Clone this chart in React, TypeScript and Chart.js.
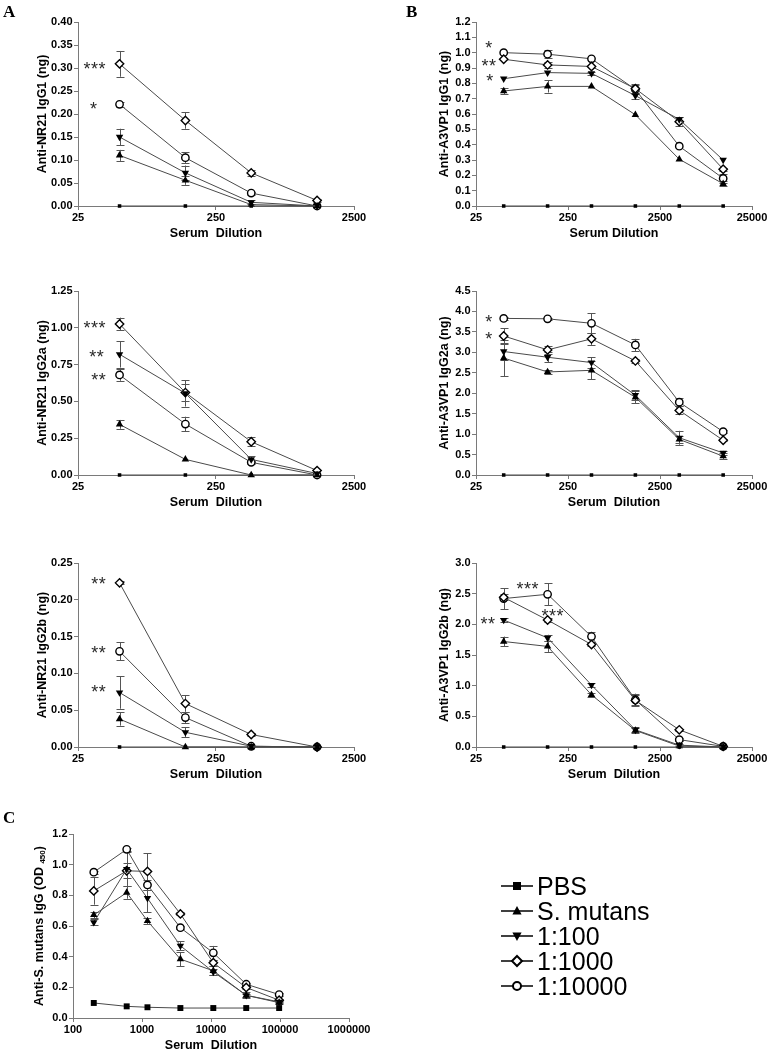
import React, { useEffect, useRef } from "react";
import { Chart, registerables } from "chart.js";

Chart.register(...registerables);

// ---------- data ----------
const SERIES_NAMES = ["PBS", "S. mutans", "1:100", "1:1000", "1:10000"];

const DIL_A = [50, 150, 450, 1350];
const DIL_B = [50, 150, 450, 1350, 4050, 12150];
const DIL_C = [200, 600, 1200, 3600, 10800, 32400, 97200];

const TICKS_A = [25, 250, 2500];
const TICKS_B = [25, 250, 2500, 25000];
const TICKS_C = [100, 1000, 10000, 100000, 1000000];

// A1: Anti-NR21 IgG1
const A1_PBS = [0, 0, 0, 0];
const A1_SM = [0.11, 0.056, 0.003, 0.0];
const A1_D100 = [0.15, 0.072, 0.008, 0.0];
const A1_D1000 = [0.309, 0.186, 0.072, 0.012];
const A1_D10000 = [0.221, 0.105, 0.028, 0.0];
const A1_ERR_SM = [0.012, 0.01, 0, 0];
const A1_ERR_D100 = [0.018, 0.016, 0.004, 0];
const A1_ERR_D1000 = [0.028, 0.018, 0.007, 0.003];
const A1_ERR_D10000 = [0.005, 0.012, 0.003, 0];

// B1: Anti-A3VP1 IgG1
const B1_PBS = [0, 0, 0, 0, 0, 0];
const B1_SM = [0.75, 0.78, 0.78, 0.595, 0.305, 0.145];
const B1_D100 = [0.83, 0.87, 0.865, 0.72, 0.565, 0.3];
const B1_D1000 = [0.957, 0.92, 0.91, 0.765, 0.55, 0.24];
const B1_D10000 = [1.0, 0.99, 0.96, 0.76, 0.39, 0.18];
const B1_ERR_SM = [0.02, 0.04, 0, 0, 0, 0.015];
const B1_ERR_D100 = [0, 0, 0.01, 0.02, 0.015, 0];
const B1_ERR_D1000 = [0, 0.02, 0, 0.03, 0.03, 0.01];
const B1_ERR_D10000 = [0, 0.025, 0, 0.03, 0, 0.03];

// A2: Anti-NR21 IgG2a
const A2_PBS = [0, 0, 0, 0];
const A2_SM = [0.344, 0.106, 0.0, 0.0];
const A2_D100 = [0.82, 0.555, 0.106, 0.01];
const A2_D1000 = [1.026, 0.56, 0.226, 0.03];
const A2_D10000 = [0.68, 0.346, 0.086, 0.0];
const A2_ERR_SM = [0.03, 0, 0, 0];
const A2_ERR_D100 = [0.09, 0.09, 0.02, 0];
const A2_ERR_D1000 = [0.043, 0.06, 0.03, 0];
const A2_ERR_D10000 = [0.04, 0.05, 0.01, 0];

// B2: Anti-A3VP1 IgG2a
const B2_PBS = [0, 0, 0, 0, 0, 0];
const B2_SM = [2.86, 2.52, 2.56, 1.9, 0.87, 0.46];
const B2_D100 = [3.02, 2.88, 2.75, 1.95, 0.91, 0.54];
const B2_D1000 = [3.4, 3.06, 3.33, 2.79, 1.58, 0.85];
const B2_D10000 = [3.83, 3.82, 3.71, 3.18, 1.78, 1.06];
const B2_ERR_SM = [0.45, 0.05, 0.22, 0.15, 0.08, 0.08];
const B2_ERR_D100 = [0.2, 0.12, 0.13, 0.12, 0.17, 0.05];
const B2_ERR_D1000 = [0.19, 0.1, 0.15, 0.05, 0.1, 0.03];
const B2_ERR_D10000 = [0.03, 0.03, 0.24, 0.15, 0.1, 0.03];

// A3: Anti-NR21 IgG2b
const A3_PBS = [0, 0, 0, 0];
const A3_SM = [0.038, 0.0, 0.0, 0.0];
const A3_D100 = [0.074, 0.02, 0.001, 0.0];
const A3_D1000 = [0.223, 0.059, 0.017, 0.0];
const A3_D10000 = [0.13, 0.04, 0.001, 0.0];
const A3_ERR_SM = [0.009, 0, 0, 0];
const A3_ERR_D100 = [0.022, 0.007, 0, 0];
const A3_ERR_D1000 = [0.002, 0.011, 0.002, 0];
const A3_ERR_D10000 = [0.012, 0.008, 0, 0];

// B3: Anti-A3VP1 IgG2b
const B3_PBS = [0, 0, 0, 0, 0, 0];
const B3_SM = [1.72, 1.64, 0.85, 0.27, 0.015, 0.0];
const B3_D100 = [2.07, 1.78, 1.01, 0.28, 0.03, 0.0];
const B3_D1000 = [2.44, 2.07, 1.67, 0.76, 0.28, 0.01];
const B3_D10000 = [2.42, 2.49, 1.8, 0.77, 0.12, 0.01];
const B3_ERR_SM = [0.08, 0.09, 0.03, 0.04, 0, 0];
const B3_ERR_D100 = [0.03, 0.05, 0.03, 0.04, 0.02, 0];
const B3_ERR_D1000 = [0.05, 0.03, 0.03, 0.08, 0.02, 0];
const B3_ERR_D10000 = [0.17, 0.18, 0.08, 0.1, 0.03, 0];

// C: Anti-S. mutans IgG (OD450)
const C_PBS = [0.098, 0.076, 0.07, 0.065, 0.065, 0.065, 0.065];
const C_SM = [0.672, 0.818, 0.633, 0.384, 0.308, 0.148, 0.1];
const C_D100 = [0.624, 0.971, 0.781, 0.471, 0.301, 0.148, 0.105];
const C_D1000 = [0.829, 0.96, 0.956, 0.679, 0.36, 0.199, 0.116];
const C_D10000 = [0.951, 1.1, 0.868, 0.589, 0.425, 0.22, 0.153];
const C_ERR_SM = [0.02, 0.04, 0.02, 0.045, 0.03, 0.02, 0.01];
const C_ERR_D100 = [0.02, 0.11, 0.09, 0.03, 0.02, 0.01, 0.01];
const C_ERR_D1000 = [0.09, 0.05, 0.12, 0.01, 0.02, 0.01, 0.01];
const C_ERR_D10000 = [0.01, 0.01, 0.03, 0.01, 0.045, 0.01, 0.01];

const NO_ERR_4 = [0, 0, 0, 0];
const NO_ERR_6 = [0, 0, 0, 0, 0, 0];
const NO_ERR_7 = [0, 0, 0, 0, 0, 0, 0];

// ---------- styles / layout ----------
const FONT = '"Liberation Sans", Arial, Helvetica, sans-serif';
const AXIS_COLOR = "#7a7a7a";
const LINE_COLOR = "#4a4a4a";
const ERR_COLOR = "#555555";
const Y_W = 70;
const PT = 12;
const X_H = 42;
const TITLE_SIZE = 12.5;

const MARKERS = [
  { pointStyle: "rect", rotation: 0, fill: "#000", r: 2.5, bw: 0 },
  { pointStyle: "triangle", rotation: 0, fill: "#000", r: 4.3, bw: 0 },
  { pointStyle: "triangle", rotation: 180, fill: "#000", r: 4.3, bw: 0 },
  { pointStyle: "rectRot", rotation: 0, fill: "#fff", r: 4.2, bw: 1.4 },
  { pointStyle: "circle", rotation: 0, fill: "#fff", r: 3.7, bw: 1.4 },
];

type Note = { s: number; i: number; text: string; dx: number; dy: number };
type PanelCfg = {
  id: string;
  area: number[]; // left, top, right, bottom (page px)
  padRight: number;
  xs: number[];
  xMin: number;
  xMax: number;
  xTicks: number[];
  yMax: number;
  yStep: number;
  yDec: number;
  yTitle: string;
  yTitleDist: number;
  xTitle: string;
  values: number[][];
  errors: number[][];
  notes: Note[];
  pbsRadius: number;
  customYTitle?: boolean;
  legend?: { x: number; y: number; gap: number };
};

const PANELS: PanelCfg[] = [
  {
    id: "A1",
    area: [78, 22, 354, 206],
    padRight: 25,
    xs: DIL_A, xMin: 25, xMax: 2500, xTicks: TICKS_A,
    yMax: 0.4, yStep: 0.05, yDec: 2,
    yTitle: "Anti-NR21 IgG1 (ng)", yTitleDist: 35.5,
    xTitle: "Serum  Dilution",
    values: [A1_PBS, A1_SM, A1_D100, A1_D1000, A1_D10000],
    errors: [NO_ERR_4, A1_ERR_SM, A1_ERR_D100, A1_ERR_D1000, A1_ERR_D10000],
    notes: [
      { s: 3, i: 0, text: "***", dx: -25, dy: 2 },
      { s: 4, i: 0, text: "*", dx: -26, dy: 1 },
    ],
    pbsRadius: 2.5,
  },
  {
    id: "B1",
    area: [476, 22, 752, 206],
    padRight: 25,
    xs: DIL_B, xMin: 25, xMax: 25000, xTicks: TICKS_B,
    yMax: 1.2, yStep: 0.1, yDec: 1,
    yTitle: "Anti-A3VP1 IgG1 (ng)", yTitleDist: 31,
    xTitle: "Serum Dilution",
    values: [B1_PBS, B1_SM, B1_D100, B1_D1000, B1_D10000],
    errors: [NO_ERR_6, B1_ERR_SM, B1_ERR_D100, B1_ERR_D1000, B1_ERR_D10000],
    notes: [
      { s: 4, i: 0, text: "*", dx: -15, dy: -8 },
      { s: 3, i: 0, text: "**", dx: -15, dy: 3 },
      { s: 2, i: 0, text: "*", dx: -14, dy: -1 },
    ],
    pbsRadius: 2.5,
  },
  {
    id: "A2",
    area: [78, 291, 354, 475],
    padRight: 25,
    xs: DIL_A, xMin: 25, xMax: 2500, xTicks: TICKS_A,
    yMax: 1.25, yStep: 0.25, yDec: 2,
    yTitle: "Anti-NR21 IgG2a (ng)", yTitleDist: 35.5,
    xTitle: "Serum  Dilution",
    values: [A2_PBS, A2_SM, A2_D100, A2_D1000, A2_D10000],
    errors: [NO_ERR_4, A2_ERR_SM, A2_ERR_D100, A2_ERR_D1000, A2_ERR_D10000],
    notes: [
      { s: 3, i: 0, text: "***", dx: -25, dy: 1 },
      { s: 2, i: 0, text: "**", dx: -23, dy: -1 },
      { s: 4, i: 0, text: "**", dx: -21, dy: 2 },
    ],
    pbsRadius: 2.5,
  },
  {
    id: "B2",
    area: [476, 291, 752, 475],
    padRight: 25,
    xs: DIL_B, xMin: 25, xMax: 25000, xTicks: TICKS_B,
    yMax: 4.5, yStep: 0.5, yDec: 1,
    yTitle: "Anti-A3VP1 IgG2a (ng)", yTitleDist: 31,
    xTitle: "Serum  Dilution",
    values: [B2_PBS, B2_SM, B2_D100, B2_D1000, B2_D10000],
    errors: [NO_ERR_6, B2_ERR_SM, B2_ERR_D100, B2_ERR_D1000, B2_ERR_D10000],
    notes: [
      { s: 4, i: 0, text: "*", dx: -15, dy: 0 },
      { s: 3, i: 0, text: "*", dx: -15, dy: 0 },
    ],
    pbsRadius: 2.5,
  },
  {
    id: "A3",
    area: [78, 563, 354, 747],
    padRight: 25,
    xs: DIL_A, xMin: 25, xMax: 2500, xTicks: TICKS_A,
    yMax: 0.25, yStep: 0.05, yDec: 2,
    yTitle: "Anti-NR21 IgG2b (ng)", yTitleDist: 35.5,
    xTitle: "Serum  Dilution",
    values: [A3_PBS, A3_SM, A3_D100, A3_D1000, A3_D10000],
    errors: [NO_ERR_4, A3_ERR_SM, A3_ERR_D100, A3_ERR_D1000, A3_ERR_D10000],
    notes: [
      { s: 3, i: 0, text: "**", dx: -21, dy: -2 },
      { s: 4, i: 0, text: "**", dx: -21, dy: -2 },
      { s: 2, i: 0, text: "**", dx: -21, dy: -4 },
    ],
    pbsRadius: 2.5,
  },
  {
    id: "B3",
    area: [476, 563, 752, 747],
    padRight: 25,
    xs: DIL_B, xMin: 25, xMax: 25000, xTicks: TICKS_B,
    yMax: 3.0, yStep: 0.5, yDec: 1,
    yTitle: "Anti-A3VP1 IgG2b (ng)", yTitleDist: 31,
    xTitle: "Serum  Dilution",
    values: [B3_PBS, B3_SM, B3_D100, B3_D1000, B3_D10000],
    errors: [NO_ERR_6, B3_ERR_SM, B3_ERR_D100, B3_ERR_D1000, B3_ERR_D10000],
    notes: [
      { s: 4, i: 1, text: "***", dx: -20, dy: -9 },
      { s: 3, i: 1, text: "***", dx: 5, dy: -8 },
      { s: 2, i: 0, text: "**", dx: -16, dy: 0 },
    ],
    pbsRadius: 2.5,
  },
  {
    id: "C",
    area: [73, 834, 349, 1018],
    padRight: 300,
    xs: DIL_C, xMin: 100, xMax: 1000000, xTicks: TICKS_C,
    yMax: 1.2, yStep: 0.2, yDec: 1,
    yTitle: "Anti-S. mutans IgG (OD",
    yTitleDist: 33,
    xTitle: "Serum  Dilution",
    values: [C_PBS, C_SM, C_D100, C_D1000, C_D10000],
    errors: [NO_ERR_7, C_ERR_SM, C_ERR_D100, C_ERR_D1000, C_ERR_D10000],
    notes: [],
    pbsRadius: 4.2,
    customYTitle: true,
    legend: { x: 501, y: 886, gap: 25 },
  },
];

function drawLegendMarker(ctx: CanvasRenderingContext2D, kind: number, x: number, y: number) {
  ctx.save();
  ctx.beginPath();
  ctx.fillStyle = "#000";
  ctx.strokeStyle = "#000";
  ctx.lineWidth = 2;
  if (kind === 0) {
    ctx.rect(x - 4, y - 4, 8, 8);
    ctx.fill();
  } else if (kind === 1) {
    ctx.moveTo(x, y - 5);
    ctx.lineTo(x + 4.6, y + 3.5);
    ctx.lineTo(x - 4.6, y + 3.5);
    ctx.closePath();
    ctx.fill();
  } else if (kind === 2) {
    ctx.moveTo(x, y + 5);
    ctx.lineTo(x + 4.6, y - 3.5);
    ctx.lineTo(x - 4.6, y - 3.5);
    ctx.closePath();
    ctx.fill();
  } else if (kind === 3) {
    ctx.moveTo(x, y - 5);
    ctx.lineTo(x + 5, y);
    ctx.lineTo(x, y + 5);
    ctx.lineTo(x - 5, y);
    ctx.closePath();
    ctx.fillStyle = "#fff";
    ctx.fill();
    ctx.stroke();
  } else {
    ctx.arc(x, y, 4, 0, Math.PI * 2);
    ctx.fillStyle = "#fff";
    ctx.fill();
    ctx.stroke();
  }
  ctx.restore();
}

function Panel({ cfg }: { cfg: PanelCfg }) {
  const ref = useRef<HTMLCanvasElement>(null);
  const [l, t, r, b] = cfg.area;
  const w = Y_W + (r - l) + cfg.padRight;
  const h = PT + (b - t) + X_H;
  const left = l - Y_W;
  const top = t - PT;

  useEffect(() => {
    const canvas = ref.current;
    if (!canvas) return;
    const lh = TITLE_SIZE * 1.2;

    const extras = {
      id: "extras_" + cfg.id,
      beforeDatasetsDraw(chart: any) {
        const ctx = chart.ctx as CanvasRenderingContext2D;
        const xs = chart.scales.x;
        const ys = chart.scales.y;
        ctx.save();
        ctx.strokeStyle = ERR_COLOR;
        ctx.lineWidth = 1;
        cfg.errors.forEach((errs, si) => {
          errs.forEach((e, i) => {
            if (!e) return;
            const v = cfg.values[si][i];
            const px = Math.round(xs.getPixelForValue(cfg.xs[i])) + 0.5;
            const y1 = ys.getPixelForValue(v + e);
            const y2 = ys.getPixelForValue(Math.max(0, v - e));
            ctx.beginPath();
            ctx.moveTo(px, y1);
            ctx.lineTo(px, y2);
            ctx.moveTo(px - 4, Math.round(y1) + 0.5);
            ctx.lineTo(px + 4, Math.round(y1) + 0.5);
            ctx.moveTo(px - 4, Math.round(y2) + 0.5);
            ctx.lineTo(px + 4, Math.round(y2) + 0.5);
            ctx.stroke();
          });
        });
        ctx.restore();
      },
      afterDatasetsDraw(chart: any) {
        const ctx = chart.ctx as CanvasRenderingContext2D;
        const xs = chart.scales.x;
        const ys = chart.scales.y;
        ctx.save();
        ctx.fillStyle = "#2a2a2a";
        ctx.font = `18px ${FONT}`;
        ctx.textAlign = "center";
        ctx.textBaseline = "alphabetic";
        const m = ctx.measureText("*");
        const asc = m.actualBoundingBoxAscent;
        const desc = m.actualBoundingBoxDescent;
        const pitch = 7.5;
        cfg.notes.forEach((n) => {
          const cx = xs.getPixelForValue(cfg.xs[n.i]) + n.dx;
          const cy = ys.getPixelForValue(cfg.values[n.s][n.i]) + n.dy;
          const base = cy + (asc - desc) / 2;
          const chars = n.text.split("");
          const start = cx - ((chars.length - 1) * pitch) / 2;
          chars.forEach((ch, k) => ctx.fillText(ch, start + k * pitch, base));
        });
        ctx.restore();
      },
      afterDraw(chart: any) {
        const ctx = chart.ctx as CanvasRenderingContext2D;
        if (cfg.customYTitle) {
          ctx.save();
          const cx = l - cfg.yTitleDist - left;
          const cy = (t + b) / 2 - top;
          ctx.translate(cx, cy);
          ctx.rotate(-Math.PI / 2);
          ctx.fillStyle = "#000";
          ctx.textBaseline = "middle";
          ctx.textAlign = "left";
          const mainFont = `bold ${TITLE_SIZE}px ${FONT}`;
          const subFont = `bold 8px ${FONT}`;
          ctx.font = mainFont;
          const p1 = cfg.yTitle + " ";
          const w1 = ctx.measureText(p1).width;
          const w3 = ctx.measureText(")").width;
          ctx.font = subFont;
          const sub = "450";
          const w2 = ctx.measureText(sub).width;
          const total = w1 + w2 + w3;
          let x = -total / 2;
          ctx.font = mainFont;
          ctx.fillText(p1, x, 0);
          x += w1;
          ctx.font = subFont;
          ctx.fillText(sub, x, 3);
          x += w2;
          ctx.font = mainFont;
          ctx.fillText(")", x, 0);
          ctx.restore();
        }
        if (cfg.legend) {
          const lg = cfg.legend;
          ctx.save();
          ctx.font = `25px ${FONT}`;
          ctx.fillStyle = "#000";
          ctx.textAlign = "left";
          ctx.textBaseline = "alphabetic";
          SERIES_NAMES.forEach((name, k) => {
            const y = lg.y + k * lg.gap - top;
            const x0 = lg.x - left;
            ctx.strokeStyle = "#000";
            ctx.lineWidth = 1.5;
            ctx.beginPath();
            ctx.moveTo(x0, y);
            ctx.lineTo(x0 + 32, y);
            ctx.stroke();
            drawLegendMarker(ctx, k, x0 + 16, y);
            ctx.fillStyle = "#000";
            ctx.fillText(name, x0 + 36, y + 9);
          });
          ctx.restore();
        }
      },
    };

    const datasets = cfg.values.map((vals, si) => {
      const mk = MARKERS[si];
      return {
        label: SERIES_NAMES[si],
        data: cfg.xs.map((x, i) => ({ x, y: vals[i] })),
        borderColor: LINE_COLOR,
        borderWidth: 1,
        pointStyle: mk.pointStyle,
        rotation: mk.rotation,
        pointRotation: mk.rotation,
        pointRadius: si === 0 ? cfg.pbsRadius : mk.r,
        pointBackgroundColor: mk.fill,
        pointBorderColor: "#000",
        pointBorderWidth: mk.bw,
        clip: false,
        tension: 0,
        fill: false,
      };
    });

    const chart = new Chart(canvas, {
      type: "line",
      data: { datasets } as any,
      options: {
        animation: false,
        responsive: false,
        devicePixelRatio: 1,
        events: [],
        layout: { padding: { top: PT, right: cfg.padRight, bottom: 0, left: 0 } },
        plugins: { legend: { display: false }, tooltip: { enabled: false } },
        scales: {
          x: {
            type: "logarithmic",
            min: cfg.xMin,
            max: cfg.xMax,
            afterBuildTicks: (s: any) => {
              s.ticks = cfg.xTicks.map((v) => ({ value: v }));
            },
            afterFit: (s: any) => {
              s.height = X_H;
            },
            grid: { display: true, drawOnChartArea: false, drawTicks: true, tickLength: 4, color: AXIS_COLOR },
            border: { display: true, color: AXIS_COLOR, width: 1 },
            ticks: {
              callback: (v: any) => String(v),
              font: { family: FONT, size: 11, weight: "bold" },
              color: "#000",
              padding: 1,
              maxRotation: 0,
              autoSkip: false,
            },
            title: {
              display: true,
              text: cfg.xTitle,
              font: { family: FONT, size: TITLE_SIZE, weight: "bold" },
              color: "#000",
              padding: { top: 0, bottom: X_H - 27.5 - lh / 2 },
            },
          },
          y: {
            type: "linear",
            min: 0,
            max: cfg.yMax,
            afterFit: (s: any) => {
              s.width = Y_W;
            },
            grid: { display: true, drawOnChartArea: false, drawTicks: true, tickLength: 4, color: AXIS_COLOR },
            border: { display: true, color: AXIS_COLOR, width: 1 },
            ticks: {
              stepSize: cfg.yStep,
              autoSkip: false,
              callback: (v: any) => Number(v).toFixed(cfg.yDec),
              font: { family: FONT, size: 11, weight: "bold" },
              color: "#000",
              padding: 1.5,
            },
            title: {
              display: !cfg.customYTitle,
              text: cfg.yTitle,
              font: { family: FONT, size: TITLE_SIZE, weight: "bold" },
              color: "#000",
              padding: { top: Y_W - cfg.yTitleDist - lh / 2, bottom: 0 },
            },
          },
        },
      } as any,
      plugins: [extras],
    });
    return () => chart.destroy();
  }, [cfg]);

  return (
    <canvas
      ref={ref}
      width={w}
      height={h}
      style={{ position: "absolute", left, top, width: w, height: h }}
    />
  );
}

const LABELS = [
  { text: "A", left: 3, top: 3 },
  { text: "B", left: 406, top: 3 },
  { text: "C", left: 3, top: 809 },
];

export default function App() {
  return (
    <div
      style={{
        position: "absolute",
        left: 0,
        top: 0,
        width: 767,
        height: 1050,
        overflow: "hidden",
        background: "#fff",
      }}
    >
      {PANELS.map((p) => (
        <Panel key={p.id} cfg={p} />
      ))}
      {LABELS.map((lb) => (
        <div
          key={lb.text}
          style={{
            position: "absolute",
            left: lb.left,
            top: lb.top,
            fontFamily: '"Liberation Serif", "Times New Roman", serif',
            fontWeight: "bold",
            fontSize: 17,
            lineHeight: 1,
          }}
        >
          {lb.text}
        </div>
      ))}
    </div>
  );
}
